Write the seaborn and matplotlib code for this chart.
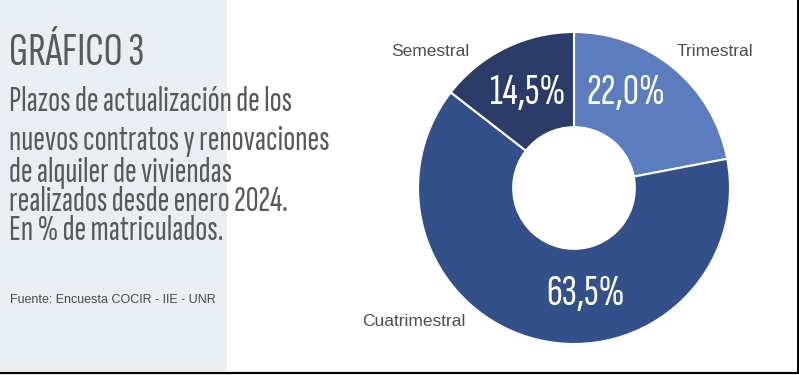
import matplotlib
matplotlib.use("Agg")
import matplotlib.pyplot as plt
import seaborn as sns
from matplotlib import font_manager
from matplotlib.patches import Rectangle
from matplotlib.lines import Line2D

# datos
categorias = ["Trimestral", "Cuatrimestral", "Semestral"]
valores = [22.0, 63.5, 14.5]
etiquetas = ["22,0%", "63,5%", "14,5%"]
colores = ["#5b7dc0", "#33508a", "#2b3c68"]

titulo = "GRÁFICO 3"
subtitulo = ["Plazos de actualización de los",
             "nuevos contratos y renovaciones",
             "de alquiler de viviendas",
             "realizados desde enero 2024.",
             "En % de matriculados."]
fuente = "Fuente: Encuesta COCIR - IIE - UNR"

sns.set_theme(style="white")

disponibles = {f.name for f in font_manager.fontManager.ttflist}
cond = next((n for n in ["Sofia Sans Extra Condensed", "Pathway Gothic One", "Oswald",
                         "Roboto Condensed", "Liberation Sans Narrow"]
             if n in disponibles), "DejaVu Sans")
sans = next((n for n in ["Arimo", "Liberation Sans", "Roboto"] if n in disponibles), "DejaVu Sans")
plt.rcParams["font.family"] = [sans, "DejaVu Sans"]

W, H = 799, 375
fig = plt.figure(figsize=(W / 100, H / 100), dpi=100)
fig.patch.set_facecolor("white")


def px(x, y):
    return x / W, 1 - y / H


# panel izquierdo y bordes
fig.add_artist(Rectangle(px(0, 371), 227 / W, 371 / H, transform=fig.transFigure,
                         facecolor="#e9eef3", edgecolor="none", zorder=0))
fig.add_artist(Line2D([0, 1], [1 - 373 / H] * 2, transform=fig.transFigure, color="black", lw=1.6))
fig.add_artist(Line2D([1 - 1.5 / W] * 2, [1 - 373 / H, 1], transform=fig.transFigure, color="black", lw=1.4))

gris = "#59595c"
fig.text(*px(9, 65), titulo, family=[cond, "DejaVu Sans"], fontsize=34, color=gris, va="baseline")
bases = [111, 150, 182, 211, 240]
for linea, b in zip(subtitulo, bases):
    fig.text(*px(9, b), linea, family=[cond, "DejaVu Sans"], fontsize=25.5, color=gris, va="baseline")
fig.text(*px(10, 303), fuente, fontsize=9, color="#4a4a4c", va="baseline")

# dona
cx, cy, r = 574, 188, 156
ax = fig.add_axes([(cx - r) / W, (H - cy - r) / H, 2 * r / W, 2 * r / H])
ax.pie(valores, colors=colores, startangle=90, counterclock=False,
       wedgeprops=dict(width=0.61, edgecolor="white", linewidth=1.5))
ax.set_xlim(-1, 1)
ax.set_ylim(-1, 1)
ax.set_aspect("equal")
ax.axis("off")

pos_pct = {"Trimestral": (0.335, 0.61), "Cuatrimestral": (0.075, -0.675), "Semestral": (-0.295, 0.61)}
for cat, txt in zip(categorias, etiquetas):
    ax.text(*pos_pct[cat], txt, family=[cond, "DejaVu Sans"], fontsize=32, color="white",
            ha="center", va="center")

pos_cat = {"Trimestral": (715, 52), "Cuatrimestral": (414, 322), "Semestral": (430, 52)}
for cat in categorias:
    fig.text(*px(*pos_cat[cat]), cat, fontsize=12.5, color="#4d4d50", ha="center", va="center")

fig.savefig("out.png", dpi=100, facecolor=fig.get_facecolor())
